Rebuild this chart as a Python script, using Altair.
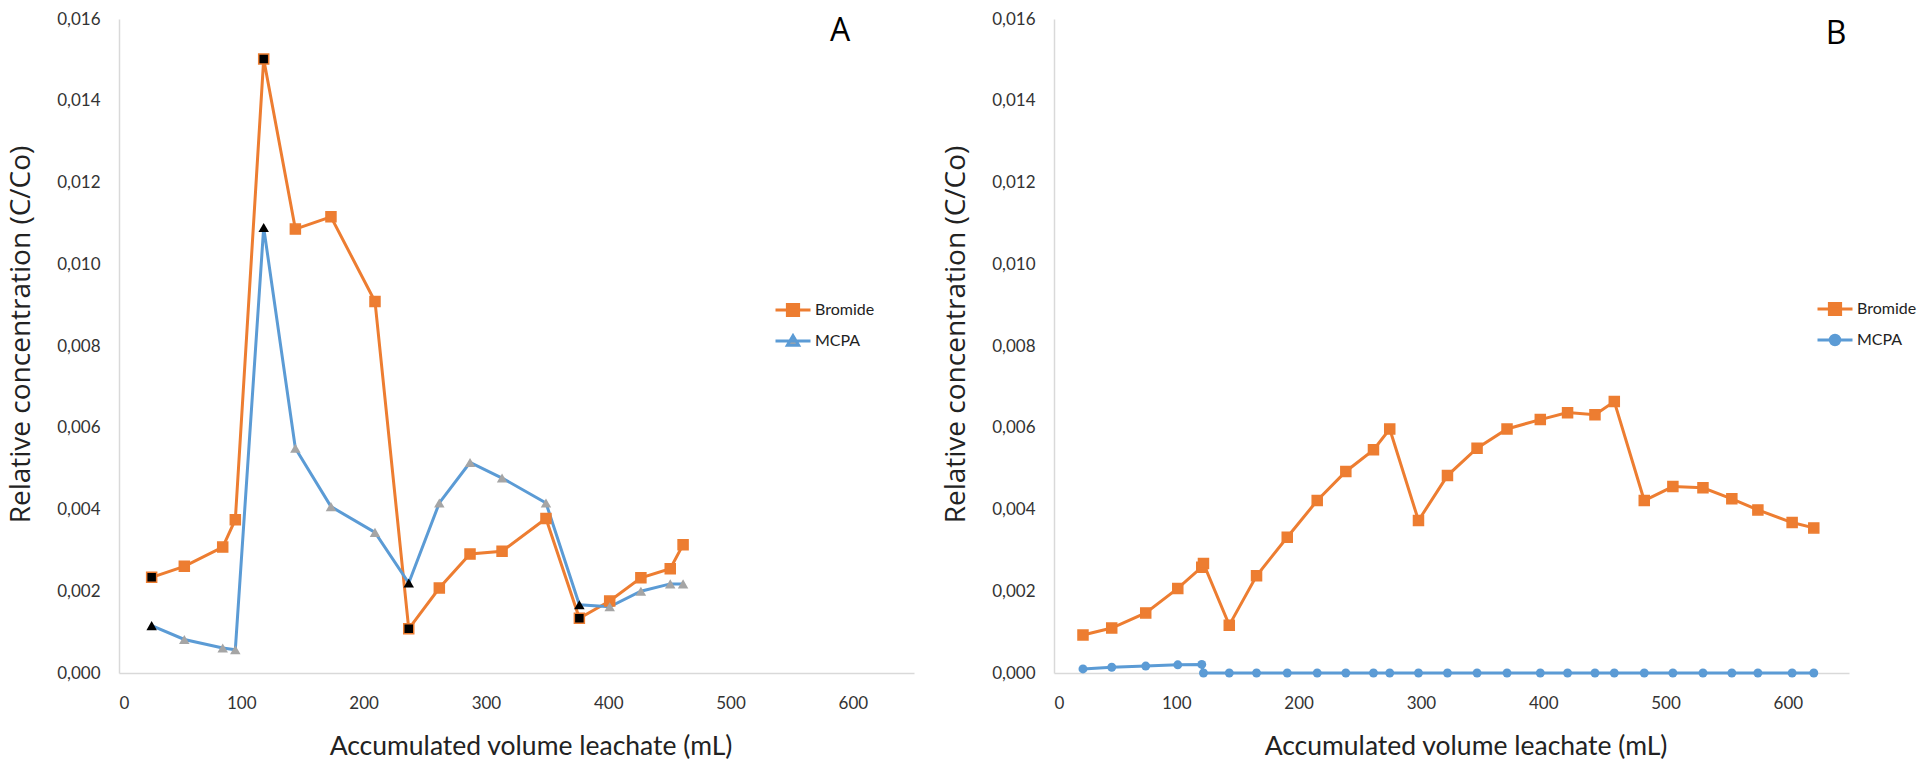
import altair as alt
import pandas as pd

# ---------------- data ----------------
# Panel A
a_vol = [26.7, 53.4, 84.8, 95.1, 118.3, 144.2, 173.3, 209.3, 236.9, 261.9, 287.0,
         313.2, 349.1, 376.4, 401.2, 426.7, 450.7, 461.2]
a_bromide = [0.00234, 0.00261, 0.00308, 0.00375, 0.01502, 0.01086, 0.01116, 0.00909,
             0.00108, 0.00208, 0.00291, 0.00298, 0.00378, 0.00134, 0.00176, 0.00233,
             0.00255, 0.00314]
a_mcpa = [0.00116, 0.00082, 0.00061, 0.00057, 0.01090, 0.00550, 0.00407, 0.00344,
          0.00220, 0.00416, 0.00515, 0.00477, 0.00416, 0.00167, 0.00162, 0.00200,
          0.00218, 0.00218]
a_dark = [1, 0, 0, 0, 1, 0, 0, 0, 1, 0, 0, 0, 0, 1, 0, 0, 0, 0]

# Panel B
b_vol = [23.7, 47.2, 75.0, 101.2, 120.8, 122.2, 143.3, 165.6, 190.7, 215.2, 238.6,
         261.2, 274.5, 298.0, 321.7, 345.9, 370.4, 397.6, 419.9, 442.3, 458.1, 482.6,
         506.0, 530.6, 554.2, 575.5, 603.5, 621.2]
b_bromide = [0.00093, 0.00110, 0.00147, 0.00207, 0.00259, 0.00268, 0.00117, 0.00238,
             0.00332, 0.00422, 0.00493, 0.00546, 0.00597, 0.00373, 0.00483, 0.00550,
             0.00597, 0.00620, 0.00637, 0.00632, 0.00664, 0.00422, 0.00456, 0.00453,
             0.00426, 0.00399, 0.00368, 0.00355]
b_mcpa = [0.00010, 0.00014, 0.00017, 0.00020, 0.00021, 0.0, 0.0, 0.0, 0.0, 0.0, 0.0,
          0.0, 0.0, 0.0, 0.0, 0.0, 0.0, 0.0, 0.0, 0.0, 0.0, 0.0, 0.0, 0.0, 0.0, 0.0,
          0.0, 0.0]

series_names = ["Bromide", "MCPA"]
x_ticks = [0, 100, 200, 300, 400, 500, 600]
y_ticks = [0.0, 0.002, 0.004, 0.006, 0.008, 0.010, 0.012, 0.014, 0.016]
panel_letters = ["A", "B"]
letter_vol = [589.5, 639.4]
letter_c = [0.01571, 0.01563]

X_TITLE = "Accumulated volume leachate (mL)"
Y_TITLE = "Relative concentration (C/Co)"

ORANGE = "#ed7d31"
BLUE = "#5b9bd5"
GRAY = "#a5a5a5"

# legend symbols: line with marker
SQ = "M-1,0H1M-0.32,-0.32H0.32V0.32H-0.32Z"
TRI = "M-1,0H1M0,-0.3L0.32,0.24H-0.32Z"
CIRC = "M-1,0H1M0.27,0A0.27,0.27,0,1,1,-0.27,0A0.27,0.27,0,1,1,0.27,0Z"

W = 795
H = 654

LABEL_FONT = "Lato"


def xenc():
    return alt.X("vol:Q",
                 scale=alt.Scale(domain=[0, 650], nice=False, zero=True),
                 axis=alt.Axis(values=x_ticks, title=X_TITLE, labelPadding=22,
                               titlePadding=22, titleFont="Lato", titleFontSize=26.5,
                               titleX=W / 2 + 14,
                               titleFontWeight="normal", labelFont=LABEL_FONT,
                               labelFontSize=17, format="d"))


def yenc():
    return alt.Y("c:Q",
                 scale=alt.Scale(domain=[0, 0.016], nice=False, zero=True),
                 axis=alt.Axis(values=y_ticks, title=Y_TITLE, labelPadding=19,
                               titlePadding=21, titleFont="Open Sans", titleFontSize=28,
                               titleY=H / 2 - 12,
                               titleFontWeight="normal", labelFont=LABEL_FONT,
                               labelFontSize=17,
                               labelExpr="replace(format(datum.value, '.3f'), '.', ',')"))


def panel(vol, bro, mcpa, dark, mcpa_shape, mcpa_size, mcpa_fill, leg_shapes, leg_fills,
          leg_x, leg_y, letter_idx):
    df = pd.DataFrame({"vol": vol, "bro": bro, "mcpa": mcpa, "dark": dark})
    bro_df = df.rename(columns={"bro": "c"})[["vol", "c", "dark"]]
    mcpa_df = df.rename(columns={"mcpa": "c"})[["vol", "c", "dark"]]

    bro_line = alt.Chart(bro_df).mark_line(color=ORANGE, strokeWidth=3).encode(
        x=xenc(), y=yenc())
    mcpa_line = alt.Chart(mcpa_df).mark_line(color=BLUE, strokeWidth=3).encode(
        x=xenc(), y=yenc())
    bro_pts = alt.Chart(bro_df).mark_point(shape="square", filled=True, size=100,
                                            stroke=ORANGE, strokeWidth=1.5, opacity=1).encode(
        x=xenc(), y=yenc(),
        fill=alt.condition("datum.dark == 1", alt.value("black"), alt.value(ORANGE)))
    mcpa_pts = alt.Chart(mcpa_df).mark_point(shape=mcpa_shape, filled=True, size=mcpa_size,
                                             opacity=1).encode(
        x=xenc(), y=yenc(),
        fill=alt.condition("datum.dark == 1", alt.value("black"), alt.value(mcpa_fill)))

    leg_df = pd.DataFrame({"series": series_names})
    lg = dict(orient="none", legendX=leg_x, legendY=leg_y, title=None,
              labelFont=LABEL_FONT, labelFontSize=16, labelColor="#222",
              symbolSize=1225, symbolStrokeWidth=3, symbolOpacity=1,
              rowPadding=0, labelOffset=3)
    legend_layer = alt.Chart(leg_df).mark_point(filled=True, size=1225, strokeWidth=3).encode(
        shape=alt.Shape("series:N", scale=alt.Scale(domain=series_names, range=leg_shapes),
                        legend=alt.Legend(**lg)),
        fill=alt.Fill("series:N", scale=alt.Scale(domain=series_names, range=leg_fills),
                      legend=alt.Legend(**lg)),
        stroke=alt.Stroke("series:N", scale=alt.Scale(domain=series_names, range=[ORANGE, BLUE]),
                          legend=alt.Legend(**lg)),
    ).transform_filter("false")

    let_df = pd.DataFrame({"vol": [letter_vol[letter_idx]], "c": [letter_c[letter_idx]],
                           "t": [panel_letters[letter_idx]]})
    letter = alt.Chart(let_df).mark_text(font="Open Sans", fontSize=32, color="black").encode(
        x=xenc(), y=yenc(), text="t:N")

    return alt.layer(bro_line, mcpa_line, bro_pts, mcpa_pts, legend_layer, letter).properties(
        width=W, height=H)


pA = panel(a_vol, a_bromide, a_mcpa, a_dark, "triangle-up", 110, GRAY,
           [SQ, TRI], [ORANGE, GRAY], 655, 272, 0)
pB = panel(b_vol, b_bromide, b_mcpa, [0] * len(b_vol), "circle", 80, BLUE,
           [SQ, CIRC], [ORANGE, BLUE], 762, 271, 1)

chart = alt.hconcat(pA, pB, spacing=28).resolve_scale(
    x="independent", y="independent", shape="independent", fill="independent",
    stroke="independent").resolve_legend(shape="independent", fill="independent",
                                          stroke="independent").properties(
    padding={"top": 10, "left": 7, "right": 5, "bottom": 5},
    background="white",
).configure_view(stroke=None).configure_axis(
    grid=False, ticks=False, domainColor="#d9d9d9", domainWidth=1.5,
    labelColor="#333333", titleColor="#222222")

chart.save("out.html", embed_options={"renderer": "svg", "actions": False})
